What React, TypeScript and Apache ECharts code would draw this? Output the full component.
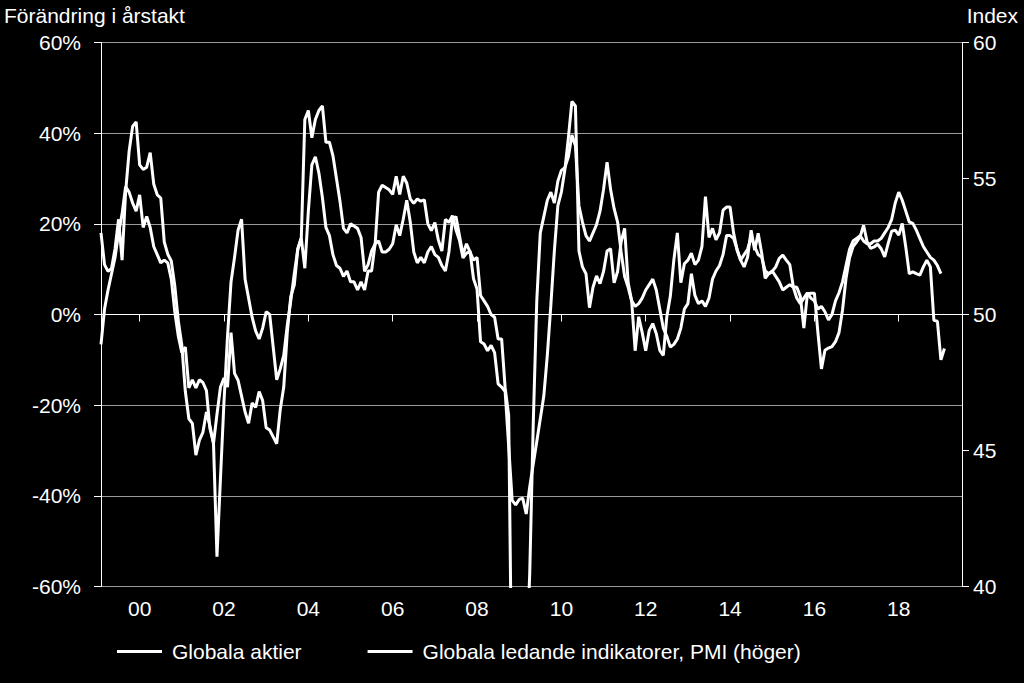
import React, { useEffect, useRef } from "react";
import * as echarts from "echarts";

// Globala aktier, förändring i årstakt (%), monthly from Feb 1999
const aktier1999 = [18, 11, 9.5, 10.2, 14.5, 21, 12, 27, 36, 41.5, 42.5];
const aktier2000 = [33, 32, 32.5, 35.7, 28.8, 26.4, 25.7, 16, 13.3, 11.8, 6.3, -1.4];
const aktier2001 = [-6.8, -17, -23, -24, -31, -27.7, -26, -21.5, -24.6, -28.5, -22, -16];
const aktier2002 = [-14, -16, -4, -13, -14.5, -18, -21.5, -24, -19.5, -20.5, -17, -19];
const aktier2003 = [-25, -25.5, -27, -28.5, -21, -16, -4, 4, 6.5, 14.5, 17, 43];
const aktier2004 = [45, 39, 43, 45, 46, 38, 38, 35, 30, 25, 19, 18];
const aktier2005 = [20, 19.5, 19, 17, 9.5, 11, 14, 15.5, 27, 28.5, 28, 27.5];
const aktier2006 = [26.5, 30.5, 26.5, 30.5, 29, 25.5, 24.5, 25.5, 25, 25.3, 20, 18.5];
const aktier2007 = [20.3, 16.4, 14, 21, 20.3, 21.8, 18.7, 16.4, 12.5, 13.5, 14, 7.9];
const aktier2008 = [5.6, -6, -6.5, -8, -6.8, -8.4, -15.3, -16, -17, -29, -41, -42];
const aktier2009 = [-40.8, -40.5, -44, -38, -33, -28, -23, -18, -9, 2, 14, 24];
const aktier2010 = [27, 32, 39, 47, 46, 14, 10.5, 9, 1.5, 6, 8.5, 6.8];
const aktier2011 = [9.5, 14, 14.5, 7, 9.5, 16, 19, 7, 3, -8, -0.5, -4];
const aktier2012 = [-8, -3.5, -2, -4.2, -7.9, -9, -0.5, 4, 12, 18, 7, 11.2];
const aktier2013 = [12, 13.5, 11, 12, 15, 26, 17, 19, 16.5, 18, 23, 23.7];
const aktier2014 = [23.7, 18, 14.2, 12, 10.5, 12.7, 18.6, 14.2, 17.9, 13.5, 8, 9];
const aktier2015 = [9.5, 10.5, 12.4, 13.1, 12, 11, 6.1, 6, 4, -3, 4.5, 4.7];
const aktier2016 = [4.7, -4, -12, -7.9, -7.4, -7.1, -6, -4, 1, 8, 12.5, 15];
const aktier2017 = [16, 17.1, 19.7, 16, 14.6, 14.9, 15.5, 14.5, 12.7, 15.7, 18.4, 18.6];
const aktier2018 = [17.5, 20.1, 14.9, 9, 9.4, 9, 8.7, 10.5, 12, 10.5, -1.3, -1.5];
const aktier2019 = [-10, -7.5];

// Globala ledande indikatorer, PMI (index, höger axel), monthly from Feb 1999
const pmi1999 = [48.9, 50.2, 50.9, 51.5, 52.1, 53.0, 53.7, 54.7, 54.5, 54.1, 53.8];
const pmi2000 = [54.4, 53.2, 53.6, 53.2, 52.5, 52.2, 51.9, 52.0, 51.9, 51.3, 50.1, 49.2];
const pmi2001 = [48.6, 48.8, 47.3, 47.6, 47.3, 47.6, 47.5, 47.2, 45.8, 45.3, 41.1, 44.0];
const pmi2002 = [46.8, 49.2, 51.2, 52.1, 53.1, 53.5, 51.3, 50.6, 49.9, 49.4, 49.1, 49.5];
const pmi2003 = [50.1, 50.0, 48.8, 47.6, 48.0, 48.5, 49.6, 50.5, 51.5, 52.4, 52.8, 51.7];
const pmi2004 = [53.8, 55.5, 55.8, 55.2, 54.3, 53.2, 52.9, 52.2, 51.8, 51.7, 51.4, 51.6];
const pmi2005 = [51.2, 51.2, 50.9, 51.2, 50.9, 51.6, 51.6, 52.6, 52.7, 52.3, 52.3, 52.4];
const pmi2006 = [52.6, 53.3, 52.9, 53.5, 54.2, 53.4, 52.3, 51.9, 52.1, 51.9, 52.3, 52.5];
const pmi2007 = [52.2, 52.1, 51.8, 51.6, 52.3, 53.5, 53.6, 52.9, 52.2, 52.6, 52.3, 52.0];
const pmi2008 = [52.1, 50.7, 50.5, 50.3, 50.0, 49.9, 49.1, 49.1, 47.3, 46.3, 35, 33];
const pmi2009 = [34, 35, 37, 40.5, 46, 50.5, 53, 53.6, 54.2, 54.5, 54.1, 54.9];
const pmi2010 = [55.3, 55.4, 55.8, 56.6, 56.2, 54.0, 53.4, 52.9, 52.7, 53.0, 53.3, 53.8];
const pmi2011 = [54.6, 55.6, 54.6, 53.9, 53.4, 52.3, 51.4, 51.0, 50.5, 50.3, 50.4, 50.6];
const pmi2012 = [50.9, 51.1, 51.3, 50.9, 50.2, 49.5, 49.2, 48.8, 48.9, 49.1, 49.5, 50.2];
const pmi2013 = [50.4, 51.5, 50.7, 50.4, 50.5, 50.3, 50.6, 51.3, 51.6, 51.8, 52.2, 52.9];
const pmi2014 = [52.9, 52.8, 52.4, 52.0, 52.2, 52.4, 52.85, 52.5, 52.2, 52.1, 51.6, 51.5];
const pmi2015 = [51.6, 51.4, 51.2, 50.9, 51.0, 51.1, 51.0, 50.6, 50.4, 50.6, 50.8, 50.6];
const pmi2016 = [50.5, 50.2, 50.3, 50.1, 49.8, 50.0, 50.5, 50.8, 51.2, 51.8, 52.4, 52.7];
const pmi2017 = [52.8, 52.9, 52.7, 52.6, 52.6, 52.7, 52.7, 52.8, 53.0, 53.2, 53.5, 54.1];
const pmi2018 = [54.5, 54.2, 53.8, 53.4, 53.35, 53.1, 52.8, 52.5, 52.3, 52.1, 52.0, 51.8];
const pmi2019 = [51.5];

const aktier = [
  ...aktier1999, ...aktier2000, ...aktier2001, ...aktier2002, ...aktier2003,
  ...aktier2004, ...aktier2005, ...aktier2006, ...aktier2007, ...aktier2008,
  ...aktier2009, ...aktier2010, ...aktier2011, ...aktier2012, ...aktier2013,
  ...aktier2014, ...aktier2015, ...aktier2016, ...aktier2017, ...aktier2018,
  ...aktier2019,
];
const pmi = [
  ...pmi1999, ...pmi2000, ...pmi2001, ...pmi2002, ...pmi2003, ...pmi2004,
  ...pmi2005, ...pmi2006, ...pmi2007, ...pmi2008, ...pmi2009, ...pmi2010,
  ...pmi2011, ...pmi2012, ...pmi2013, ...pmi2014, ...pmi2015, ...pmi2016,
  ...pmi2017, ...pmi2018, ...pmi2019,
];

// Month categories Feb 1999 .. Jul 2019
const firstYear = 1999;
const firstMonth = 2;
const monthCount = 246;
const months: string[] = [];
for (let k = 0; k < monthCount; k++) {
  const t = firstMonth - 1 + k;
  const y = firstYear + Math.floor(t / 12);
  const m = (t % 12) + 1;
  months.push(`${y}-${String(m).padStart(2, "0")}`);
}

const leftTitle = "Förändring i årstakt";
const rightTitle = "Index";
const seriesNames = ["Globala aktier", "Globala ledande indikatorer, PMI (höger)"];

const FONT = '"Liberation Sans", Arial, Helvetica, sans-serif';
const FS = 21;

const isTickMonth = (_i: number, v: string) =>
  v.endsWith("-01") && parseInt(v.slice(0, 4), 10) % 2 === 0;

export default function App() {
  const ref = useRef<HTMLDivElement>(null);
  useEffect(() => {
    if (!ref.current) return;
    const chart = echarts.init(ref.current, undefined, { renderer: "svg" });
    chart.setOption({
      animation: false,
      backgroundColor: "#000000",
      textStyle: { fontFamily: FONT },
      grid: { left: 101, right: 62, top: 42.5, bottom: 96.5, containLabel: false },
      graphic: [
        {
          type: "text",
          left: 4,
          top: 5,
          style: { text: leftTitle, fill: "#ffffff", font: `${FS}px ${FONT}` },
        },
        {
          type: "text",
          right: 6,
          top: 5,
          style: { text: rightTitle, fill: "#ffffff", font: `${FS}px ${FONT}` },
        },
      ],
      legend: {
        left: 112,
        top: 636,
        icon: "rect",
        itemWidth: 45,
        itemHeight: 3,
        itemGap: 66,
        textStyle: { color: "#ffffff", fontSize: FS, fontFamily: FONT, padding: [0, 0, 0, 5] },
        data: seriesNames,
      },
      xAxis: {
        type: "category",
        data: months,
        boundaryGap: false,
        axisLine: { show: true, lineStyle: { color: "#ffffff", width: 1 } },
        axisTick: { show: true, interval: isTickMonth, length: 7, lineStyle: { color: "#ffffff" } },
        axisLabel: {
          interval: isTickMonth,
          formatter: (v: string) => v.slice(2, 4),
          color: "#ffffff",
          fontSize: FS,
          fontFamily: FONT,
          margin: 11,
        },
        splitLine: { show: false },
      },
      yAxis: [
        {
          type: "value",
          min: -60,
          max: 60,
          interval: 20,
          position: "left",
          axisLine: { show: true, lineStyle: { color: "#ffffff", width: 1 } },
          axisTick: { show: true, length: 7, lineStyle: { color: "#ffffff" } },
          axisLabel: {
            formatter: "{value}%",
            color: "#ffffff",
            fontSize: FS,
            fontFamily: FONT,
            margin: 20,
          },
          splitLine: { show: true, lineStyle: { color: "#9a9a9a", width: 1 } },
        },
        {
          type: "value",
          min: 40,
          max: 60,
          interval: 5,
          position: "right",
          axisLine: { show: true, lineStyle: { color: "#ffffff", width: 1 } },
          axisTick: { show: true, length: 7, lineStyle: { color: "#ffffff" } },
          axisLabel: { color: "#ffffff", fontSize: FS, fontFamily: FONT, margin: 11 },
          splitLine: { show: false },
        },
      ],
      series: [
        {
          name: seriesNames[0],
          type: "line",
          yAxisIndex: 0,
          data: aktier,
          symbol: "none",
          color: "#ffffff",
          lineStyle: { color: "#ffffff", width: 3 },
          markLine: {
            silent: true,
            symbol: "none",
            label: { show: false },
            lineStyle: { color: "#ffffff", width: 1, type: "solid" },
            data: [{ yAxis: 0 }],
          },
          z: 3,
        },
        {
          name: seriesNames[1],
          type: "line",
          yAxisIndex: 1,
          data: pmi,
          symbol: "none",
          color: "#ffffff",
          lineStyle: { color: "#ffffff", width: 3 },
          z: 3,
        },
      ],
    });
    return () => chart.dispose();
  }, []);
  return (
    <div
      ref={ref}
      style={{ position: "absolute", left: 0, top: 0, width: 1024, height: 683, background: "#000" }}
    />
  );
}
